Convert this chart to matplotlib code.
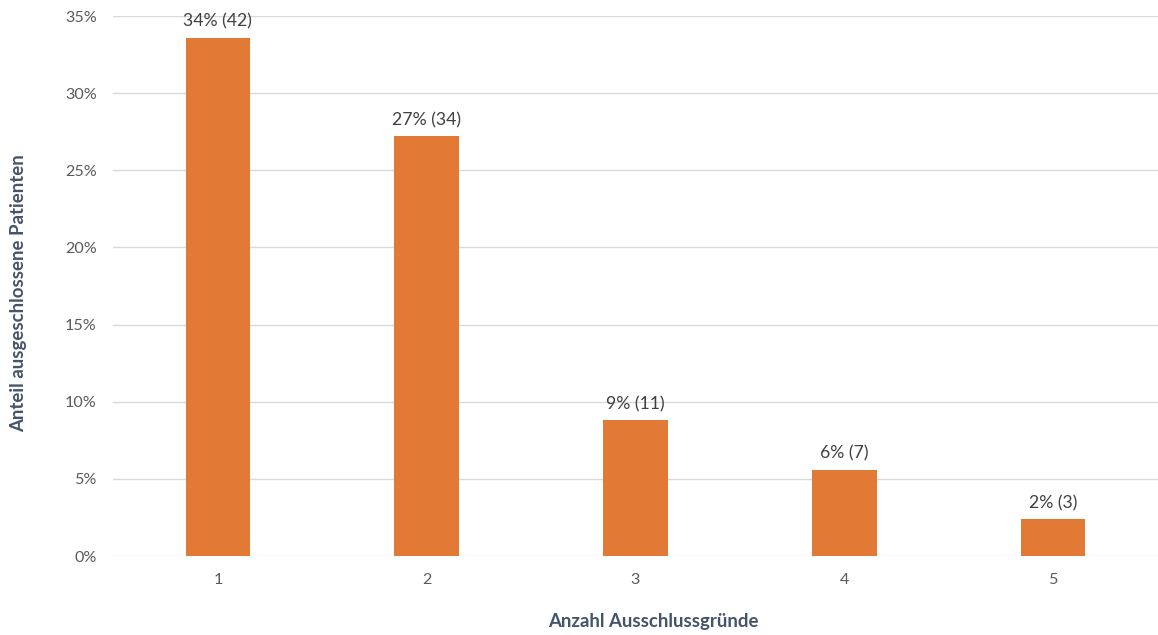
import matplotlib.pyplot as plt
from matplotlib.ticker import PercentFormatter

# Anzahl der Ausschlussgründe je Patient
categories = ["1", "2", "3", "4", "5"]
counts = [42, 34, 11, 7, 3]
total = 125
shares = [c / total * 100 for c in counts]
labels = ["34% (42)", "27% (34)", "9% (11)", "6% (7)", "2% (3)"]

plt.rcParams['font.family'] = ['Lato', 'DejaVu Sans']

fig = plt.figure(figsize=(11.58, 6.35), dpi=100)
ax = fig.add_axes([0.098, 0.1244, 0.9016, 0.8504])

x = range(len(categories))
bars = ax.bar(x, shares, width=0.31, color='#E27A35', zorder=3)
for b, lab in zip(bars, labels):
    ax.text(b.get_x() + b.get_width() / 2, b.get_height() + 0.5, lab,
            ha='center', va='bottom', fontsize=12.7, color='#404040')

ax.set_xlim(-0.5, len(categories) - 0.5)
ax.set_ylim(0, 35)
ax.set_yticks(range(0, 36, 5))
ax.yaxis.set_major_formatter(PercentFormatter(decimals=0))
ax.set_xticks(list(x))
ax.set_xticklabels(categories)
ax.tick_params(length=0, labelsize=11.6, labelcolor='#595959')
ax.tick_params(axis='y', pad=12)
ax.tick_params(axis='x', pad=12)
ax.grid(axis='y', color='#D9D9D9', linewidth=1, zorder=0)
for s in ax.spines.values():
    s.set_visible(False)

ax.set_xlabel("Anzahl Ausschlussgründe", fontsize=13.4, fontweight='bold',
              color='#44546A')
ax.set_ylabel("Anteil ausgeschlossene Patienten", fontsize=13.4, fontweight='bold',
              color='#44546A')
ax.xaxis.set_label_coords(0.517, -0.105)
ax.yaxis.set_label_coords(-0.083, 0.487)

fig.savefig("out.png", dpi=100)
